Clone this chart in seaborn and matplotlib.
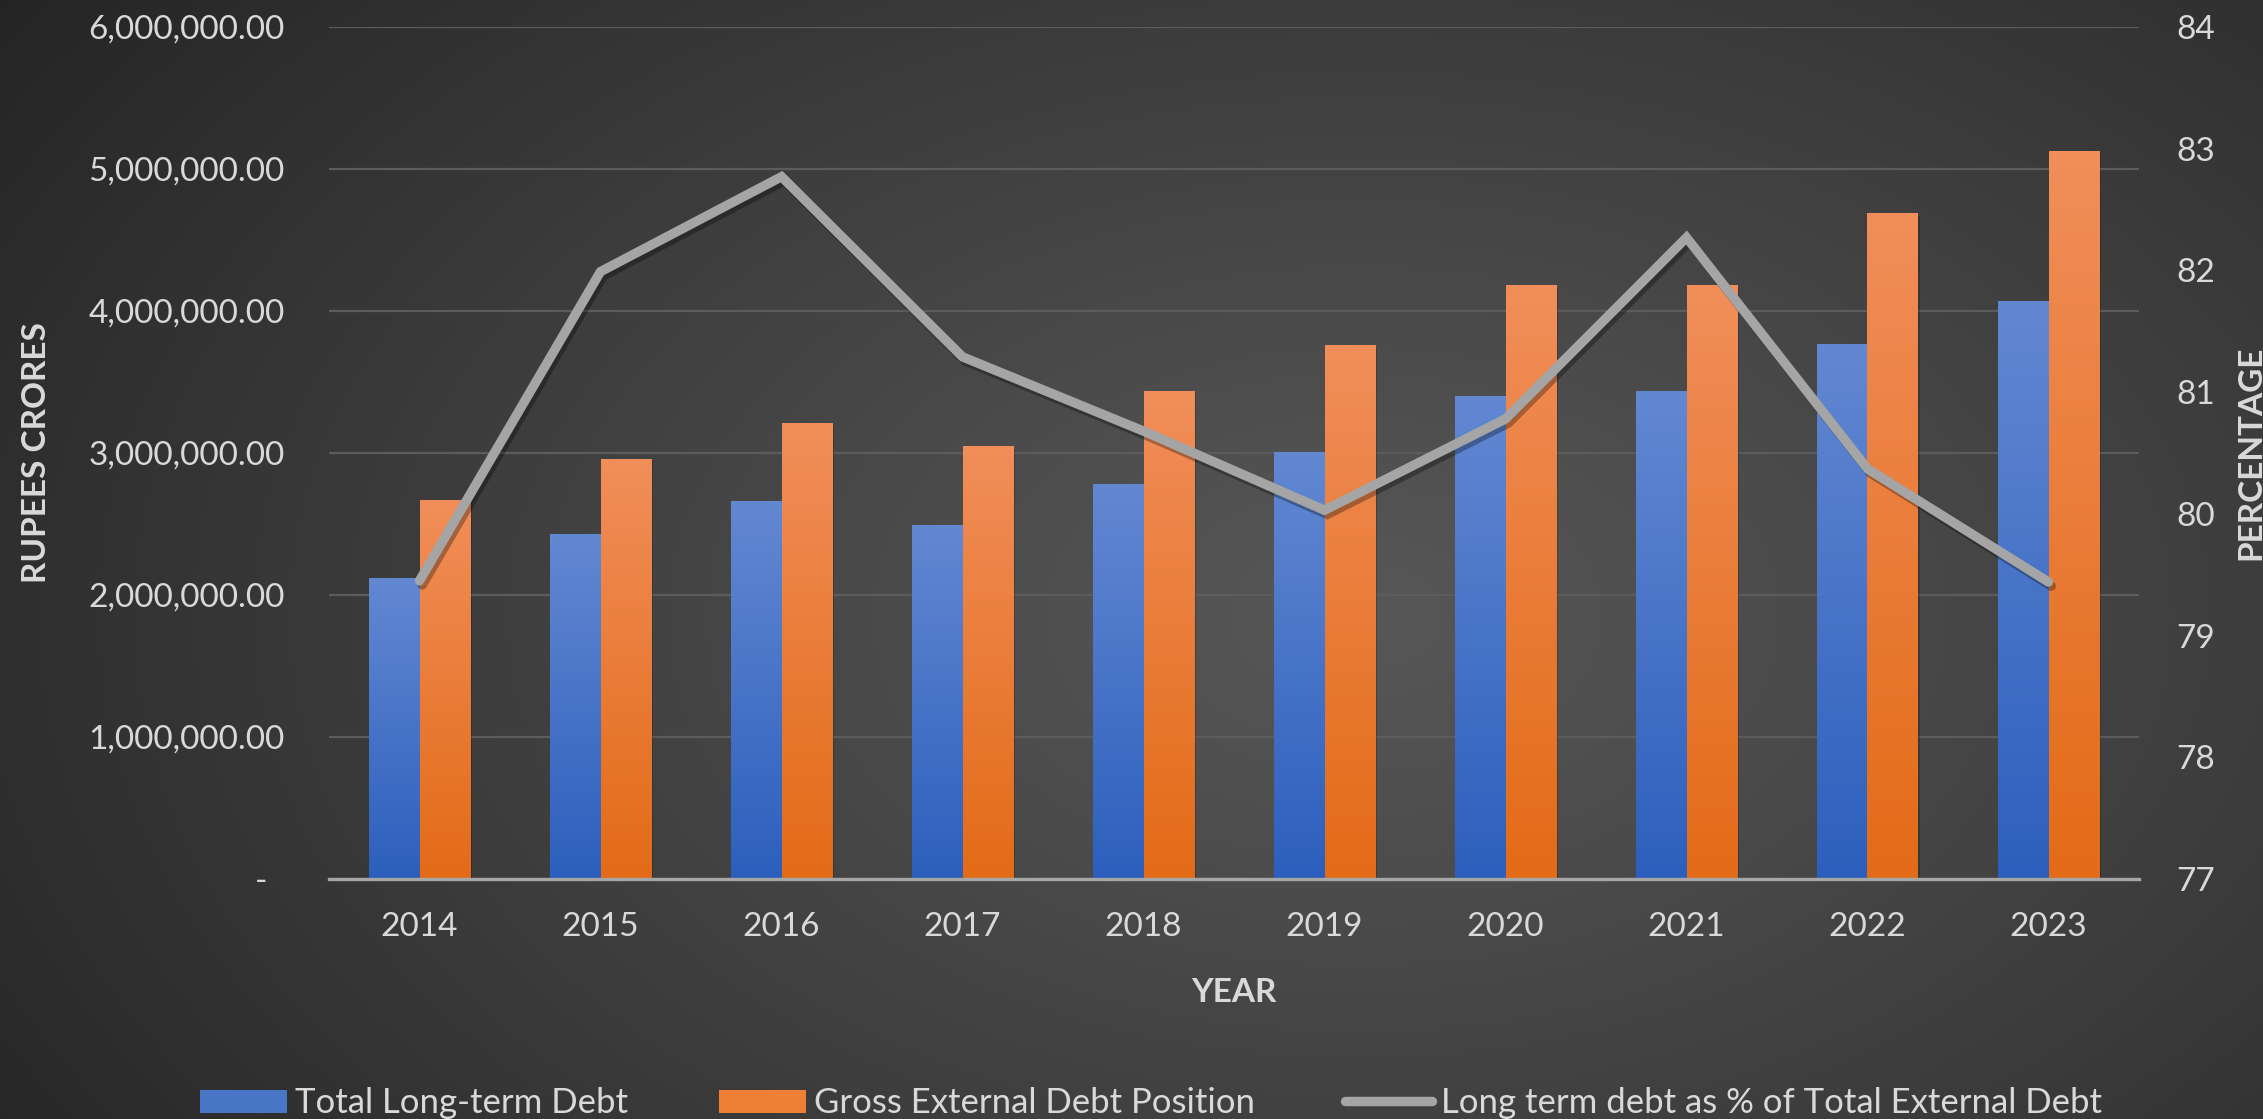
import numpy as np
import pandas as pd
import matplotlib
matplotlib.use("Agg")
import matplotlib.pyplot as plt
import matplotlib.patheffects as pe
from matplotlib.patches import Patch
from matplotlib.lines import Line2D
from matplotlib.ticker import FuncFormatter, MultipleLocator
from matplotlib.colors import to_rgb, to_hex
import seaborn as sns

# ---- data (Rupees crore, end-March) ----
years = ["2014", "2015", "2016", "2017", "2018", "2019", "2020", "2021", "2022", "2023"]
long_term_debt = [2120000, 2430000, 2660000, 2490000, 2780000, 3010000, 3400000, 3440000, 3770000, 4070000]
gross_external_debt = [2670000, 2960000, 3210000, 3050000, 3440000, 3760000, 4180000, 4180000, 4690000, 5130000]
long_term_share = [79.45, 81.99, 82.77, 81.29, 80.68, 80.03, 80.78, 82.27, 80.37, 79.44]

series_names = ["Total Long-term Debt", "Gross External Debt Position"]
line_name = "Long term debt as % of Total External Debt"

df = pd.DataFrame({
    "year": years * 2,
    "series": [series_names[0]] * len(years) + [series_names[1]] * len(years),
    "value": long_term_debt + gross_external_debt,
})

sns.set_theme(style="white")
plt.rcParams["font.family"] = ["Lato", "DejaVu Sans"]

TEXT = "#d9d9d9"
FS = 24
W, H, DPI = 2263, 1119, 100
fig = plt.figure(figsize=(W / DPI, H / DPI), dpi=DPI)
fig.patch.set_facecolor("#2b2b2b")

# radial background
bg = fig.add_axes([0, 0, 1, 1], zorder=-10)
yy, xx = np.mgrid[0:H, 0:W]
r = np.sqrt(((xx - 0.60 * W) / (0.62 * W)) ** 2 + ((yy - 0.55 * H) / (0.80 * H)) ** 2)
r = np.clip(r, 0, 1.2) / 1.2
light, dark = np.array(to_rgb("#575757")), np.array(to_rgb("#242424"))
img = light[None, None, :] + (dark - light)[None, None, :] * (r[..., None] ** 1.1)
bg.imshow(img, aspect="auto", extent=[0, 1, 0, 1], origin="upper")
bg.set_axis_off()

ax = fig.add_axes([329 / W, 1 - 879 / H, 1810 / W, 852 / H])
ax.patch.set_visible(False)

palette = {series_names[0]: "#4472c4", series_names[1]: "#ed7d31"}
sns.barplot(data=df, x="year", y="value", hue="series", order=years,
            hue_order=series_names, palette=palette, width=0.553,
            saturation=1, ax=ax, legend=False, zorder=3)

# vertical gradient fill on each bar
grad_cols = {
    "#4472c4": ("#6388d2", "#2c5fbd"),
    "#ed7d31": ("#f18e5a", "#e36b17"),
}
for bar in list(ax.patches):
    fc = to_hex(bar.get_facecolor())
    top_c, bot_c = grad_cols.get(fc, (fc, fc))
    x0, y0 = bar.get_x(), bar.get_y()
    w, h = bar.get_width(), bar.get_height()
    t = np.linspace(0, 1, 256)[:, None]
    g = np.array(to_rgb(top_c))[None, :] * (1 - t) + np.array(to_rgb(bot_c))[None, :] * t
    g = g[:, None, :]
    bar.set_edgecolor("none")
    bar.set_path_effects([pe.SimplePatchShadow(offset=(2, -2), shadow_rgbFace="black", alpha=0.2),
                          pe.Normal()])
    im = ax.imshow(g, extent=[x0, x0 + w, y0, y0 + h], aspect="auto",
                   origin="upper", zorder=3.5, interpolation="bilinear")
    im.set_clip_path(bar)

ax.set_xlim(-0.5, len(years) - 0.5)
ax.set_ylim(0, 6000000)
ax.set_aspect("auto")

ax.yaxis.set_major_locator(MultipleLocator(1000000))
ax.yaxis.set_major_formatter(FuncFormatter(lambda v, _: "-  " if v == 0 else f"{v:,.2f}"))
ax.grid(axis="y", color="#5c5c5c", linewidth=1.6, zorder=0)
ax.grid(axis="x", visible=False)
for side in ["top", "left", "right"]:
    ax.spines[side].set_visible(False)
ax.spines["bottom"].set_color("#a6a6a6")
ax.spines["bottom"].set_linewidth(2.4)
ax.spines["bottom"].set_zorder(5)
ax.tick_params(axis="both", length=0, labelsize=FS, colors=TEXT)
ax.tick_params(axis="y", pad=32)
ax.tick_params(axis="x", pad=24)

ax.set_xlabel("YEAR", fontsize=FS, fontweight="bold", color=TEXT)
ax.xaxis.label.set_va("center")
ax.xaxis.set_label_coords(0.5, -113 / 852)
ax.set_ylabel("RUPEES CRORES", fontsize=FS, fontweight="bold", color=TEXT)
ax.yaxis.label.set_va("center")
ax.yaxis.set_label_coords((37 - 329) / 1810, 0.5)

# secondary axis with the share line
ax2 = ax.twinx()
ax2.patch.set_visible(False)
sns.lineplot(x=np.arange(len(years)), y=long_term_share, ax=ax2, color="#a5a5a5",
             linewidth=6.8, zorder=6, solid_capstyle="round", solid_joinstyle="miter")
for ln in ax2.lines:
    ln.set_path_effects([pe.SimpleLineShadow(offset=(2, -3), shadow_color="black", alpha=0.3),
                         pe.Normal()])
ax2.set_ylim(77, 84)
ax2.yaxis.set_major_locator(MultipleLocator(1))
ax2.set_xlim(-0.5, len(years) - 0.5)
ax2.grid(False)
for side in ["top", "left", "right", "bottom"]:
    ax2.spines[side].set_visible(False)
ax2.tick_params(axis="y", length=0, labelsize=FS, colors=TEXT, pad=27)
ax2.set_ylabel("PERCENTAGE", fontsize=FS, fontweight="bold", color=TEXT, rotation=90)
ax2.yaxis.label.set_va("center")
ax2.yaxis.set_label_coords((2251 - 329) / 1810, 0.5)

handles = [
    Patch(facecolor="#4a76c8", edgecolor="none"),
    Patch(facecolor="#ef7f34", edgecolor="none"),
    Line2D([0], [0], color="#a5a5a5", linewidth=6.8, solid_capstyle="round"),
]
fig.legend(handles, series_names + [line_name], loc="center", ncol=3,
           bbox_to_anchor=(0.5086, 0.014), frameon=False, fontsize=25,
           labelcolor=TEXT, handlelength=2.5, handleheight=0.65,
           handletextpad=0.25, columnspacing=2.6)

fig.savefig("out.png", dpi=DPI, facecolor=fig.get_facecolor())
